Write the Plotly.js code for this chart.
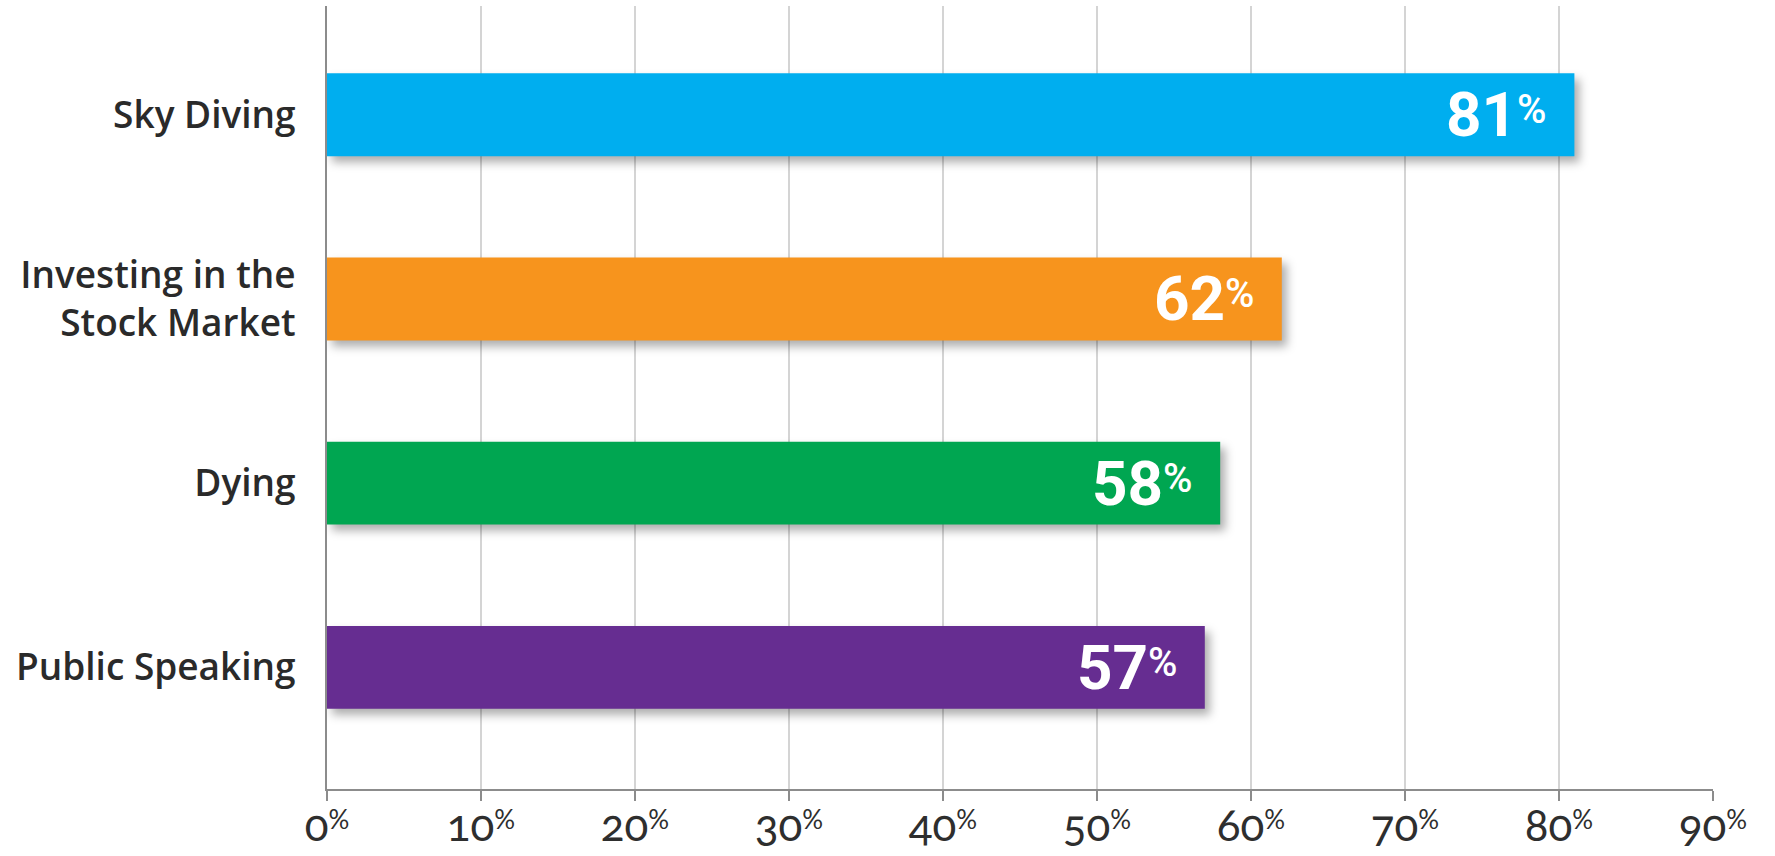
<!DOCTYPE html>
<html>
<head>
<meta charset="utf-8">
<script src="https://cdn.plot.ly/plotly-3.0.1.min.js"></script>
<style>
  html, body { margin: 0; padding: 0; background: #fff; }
  #chart { width: 1775px; height: 856px; }
  .barlayer .point path { filter: drop-shadow(5px 6px 5px rgba(0,0,0,0.32)); }
  .xtick text { font-variant-numeric: oldstyle-nums; font-feature-settings: "onum" 1; }
</style>
</head>
<body>
<div id="chart"></div>
<script>
// Data (bottom to top order for the category axis)
const categories = ["Public Speaking", "Dying", "Investing in the<br>Stock Market", "Sky Diving"];
const values = [57, 58, 62, 81];
const barColors = ["#662D91", "#00A651", "#F7941D", "#00AEEF"];
const tickValues = [0, 10, 20, 30, 40, 50, 60, 70, 80, 90];

const tickText = tickValues.map(v => v + '<sup><sub><span style="font-size:26px">%</span></sub></sup>');

const trace = {
  type: 'bar',
  orientation: 'h',
  x: values,
  y: categories,
  width: 0.45,
  marker: { color: barColors, line: { width: 0 } },
  hoverinfo: 'none',
  showlegend: false
};

const labelFont = 'Roboto, "Liberation Sans", sans-serif';
const annotations = [];
values.forEach((v, i) => {
  // number part
  annotations.push({
    x: v, y: categories[i], xref: 'x', yref: 'y',
    xanchor: 'right', yanchor: 'middle',
    xshift: -57, yshift: 0,
    showarrow: false, borderpad: 0, borderwidth: 0,
    text: '<b>' + v + '</b>',
    font: { family: labelFont, size: 62, color: '#ffffff' }
  });
  // percent sign
  annotations.push({
    x: v, y: categories[i], xref: 'x', yref: 'y',
    xanchor: 'right', yanchor: 'middle',
    xshift: -28, yshift: 5,
    showarrow: false, borderpad: 0, borderwidth: 0,
    text: '%',
    font: { family: labelFont, size: 40, color: '#ffffff', weight: 500 }
  });
});

const layout = {
  width: 1775,
  height: 856,
  margin: { l: 327, r: 62, t: 6, b: 67 },
  paper_bgcolor: '#ffffff',
  plot_bgcolor: '#ffffff',
  xaxis: {
    range: [0, 90],
    tickvals: tickValues,
    ticktext: tickText,
    showgrid: true,
    gridcolor: '#d4d4d4',
    gridwidth: 1.5,
    zeroline: false,
    showline: true,
    linecolor: '#8c8c8c',
    linewidth: 2,
    ticks: 'outside',
    ticklen: 10,
    tickwidth: 2,
    tickcolor: '#8c8c8c',
    ticklabelstandoff: -13,
    tickfont: { family: 'Lato, sans-serif', size: 44, color: '#2e2e2e' },
    fixedrange: true
  },
  yaxis: {
    type: 'category',
    categoryorder: 'array',
    categoryarray: categories,
    range: [-0.66, 3.59],
    showgrid: false,
    zeroline: false,
    showline: true,
    linecolor: '#8c8c8c',
    linewidth: 2,
    ticks: '',
    ticklabelstandoff: 22,
    tickfont: { family: '"Open Sans", sans-serif', size: 37, color: '#2a2a2a', weight: 600 },
    fixedrange: true
  },
  annotations: annotations,
  bargap: 0.55
};

Plotly.newPlot('chart', [trace], layout, { displayModeBar: false, staticPlot: true });
</script>
</body>
</html>
